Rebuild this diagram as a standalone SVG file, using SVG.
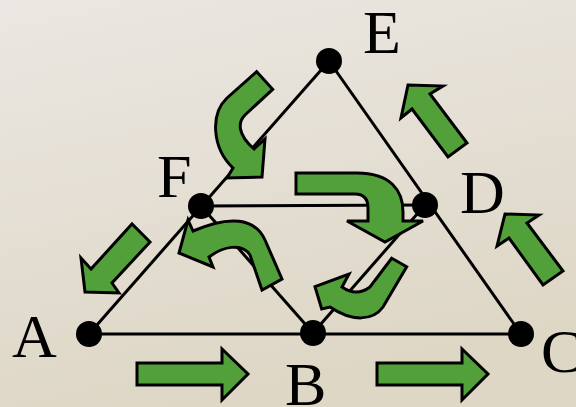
<svg xmlns="http://www.w3.org/2000/svg" width="576" height="407" viewBox="0 0 576 407">
  <defs>
    <linearGradient id="bg" x1="0" y1="0" x2="0.3" y2="1">
      <stop offset="0" stop-color="#ebe7e2"/>
      <stop offset="1" stop-color="#ded7c6"/>
    </linearGradient>
  </defs>
  <style>
    .edge { stroke: #000; stroke-width: 3; fill: none; }
    .node { fill: #000; }
    .lbl { font-family: "Liberation Serif", "Times New Roman", serif; font-size: 62px; fill: #000; }
    .arr { fill: #52a03a; stroke: #000; stroke-width: 3; stroke-linejoin: miter; }
  </style>
  <rect width="576" height="407" fill="url(#bg)"/>
  <g id="connectors">
    <line class="edge" x1="89" y1="334" x2="329" y2="61"/>
    <line class="edge" x1="329" y1="61" x2="521" y2="334"/>
    <line class="edge" x1="89" y1="334" x2="521" y2="334"/>
    <line class="edge" x1="201" y1="206" x2="425" y2="205"/>
    <line class="edge" x1="201" y1="206" x2="313" y2="333"/>
    <line class="edge" x1="425" y1="205" x2="313" y2="333"/>
  </g>
  <g id="node-E"><circle class="node" cx="329" cy="61" r="13"/><text class="lbl" x="363" y="53">E</text></g>
  <g id="node-F"><circle class="node" cx="201" cy="206" r="13"/><text class="lbl" x="157" y="197">F</text></g>
  <g id="node-D"><circle class="node" cx="425" cy="205" r="13"/><text class="lbl" x="460" y="213">D</text></g>
  <g id="node-A"><circle class="node" cx="89" cy="334" r="13"/><text class="lbl" x="12" y="357">A</text></g>
  <g id="node-B"><circle class="node" cx="313" cy="333" r="13"/><text class="lbl" x="285" y="405">B</text></g>
  <g id="node-C"><circle class="node" cx="521" cy="334" r="13"/><text class="lbl" x="541" y="372">C</text></g>
  <g id="arrows">
    <path class="arr" d="M137,363 L222,363 L222,349 L248,374 L222,400 L222,385 L137,385 Z"/>
    <path class="arr" d="M377,363 L462,363 L462,349 L488,374 L462,400 L462,385 L377,385 Z"/>
    <path class="arr" d="M408,85 L443,86 L430,94 L467,143 L448,157 L412,109 L401,118 Z"/>
    <path class="arr" d="M505,214 L539,215 L527,223 L563,271 L543,285 L509,238 L497,246 Z"/>
    <path class="arr" d="M85,292 L81,258 L91,269 L132,224 L150,242 L112,283 L119,293 Z"/>
    <path class="arr" d="M256.7,71.7 L272.7,89.3 L245,115 C 238,122 237,134 254,149 L265,139 L262,177 L227,178 L233,168 C 212,148 210,114 227,98 Z"/>
    <path class="arr" d="M296,173 L357,173 C 390,173 403,190 403,212 L403,221 L423,221 L385,242 L347,221 L368,221 L368,208 C 368,199 364,194 355,194 L296,194 Z"/>
    <path class="arr" d="M193,231 L188,220 L179,253 L213,267 L209,257 C 222,247 242,242 250,255 L262,290 L282,279 L265,240 C 255,218 230,215 193,231 Z"/>
    <path class="arr" d="M391.7,258.3 L406.7,266.7 L383,307 C 373,321 352,322 330,307 L321.7,309 L315,286.7 L349,274 L342,287 C 352,294 362,293 370,287 Z"/>
  </g>
</svg>
